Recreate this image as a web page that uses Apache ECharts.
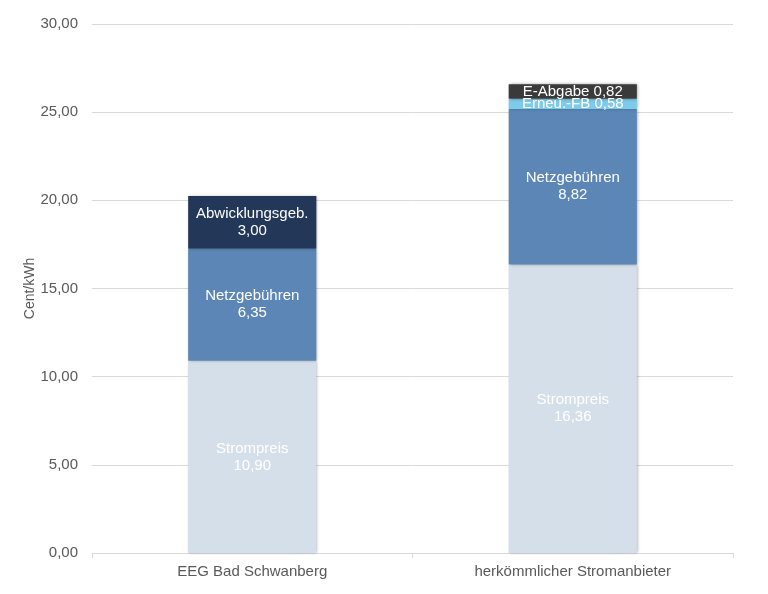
<!DOCTYPE html>
<html><head><meta charset="utf-8">
<script src="https://cdn.jsdelivr.net/npm/echarts@6/dist/echarts.min.js"></script>
<style>html,body{margin:0;padding:0;background:#fff}#c{width:768px;height:594px}</style>
</head><body><div id="c"></div>
<script>
const categories = ['EEG Bad Schwanberg', 'herkömmlicher Stromanbieter'];
const strompreis = [10.90, 16.36];
const netzgebuehren = [6.35, 8.82];
const abwicklung = [3.00, null];
const erneuFB = [null, 0.58];
const eAbgabe = [null, 0.82];
const yTicks = [0, 5, 10, 15, 20, 25, 30];

const fmt = v => v.toFixed(2).replace('.', ',');
const font = 'Liberation Sans, Arial, sans-serif';

function mk(name, data, color, twoLine) {
  return {
    name, type: 'bar', stack: 'total', data, barWidth: '40%',
    itemStyle: { color, shadowColor: 'rgba(0,0,0,0.35)', shadowBlur: 3, shadowOffsetX: 1 },
    label: {
      show: true, position: 'inside', color: '#fff', fontSize: 15, fontFamily: font, lineHeight: 17,
      formatter: p => p.value == null ? '' : (twoLine ? name + '\n' + fmt(p.value) : name + ' ' + fmt(p.value))
    }
  };
}

const chart = echarts.init(document.getElementById('c'));
chart.setOption({
  animation: false,
  grid: { left: 92, right: 35, top: 24, bottom: 41 },
  xAxis: {
    type: 'category', data: categories,
    axisLine: { lineStyle: { color: '#d9d9d9' } },
    axisTick: { show: true, length: 5, lineStyle: { color: '#d9d9d9' } },
    axisLabel: { color: '#595959', fontSize: 15, fontFamily: font, margin: 11 }
  },
  yAxis: {
    type: 'value', min: yTicks[0], max: yTicks[yTicks.length - 1], interval: 5,
    name: 'Cent/kWh', nameLocation: 'middle', nameGap: 55, nameRotate: 90, nameMoveOverlap: false,
    nameTextStyle: { color: '#595959', fontSize: 14, fontFamily: font },
    axisLabel: { color: '#595959', fontSize: 15, fontFamily: font, margin: 14, formatter: v => fmt(v) },
    splitLine: { lineStyle: { color: '#d9d9d9' } },
    axisLine: { show: false }, axisTick: { show: false }
  },
  series: [
    mk('Strompreis', strompreis, '#d5dfea', true),
    mk('Netzgebühren', netzgebuehren, '#5b86b6', true),
    mk('Abwicklungsgeb.', abwicklung, '#233858', true),
    mk('Erneu.-FB', erneuFB, '#7ccbea', false),
    mk('E-Abgabe', eAbgabe, '#3a3a3a', false)
  ]
});
</script></body></html>
